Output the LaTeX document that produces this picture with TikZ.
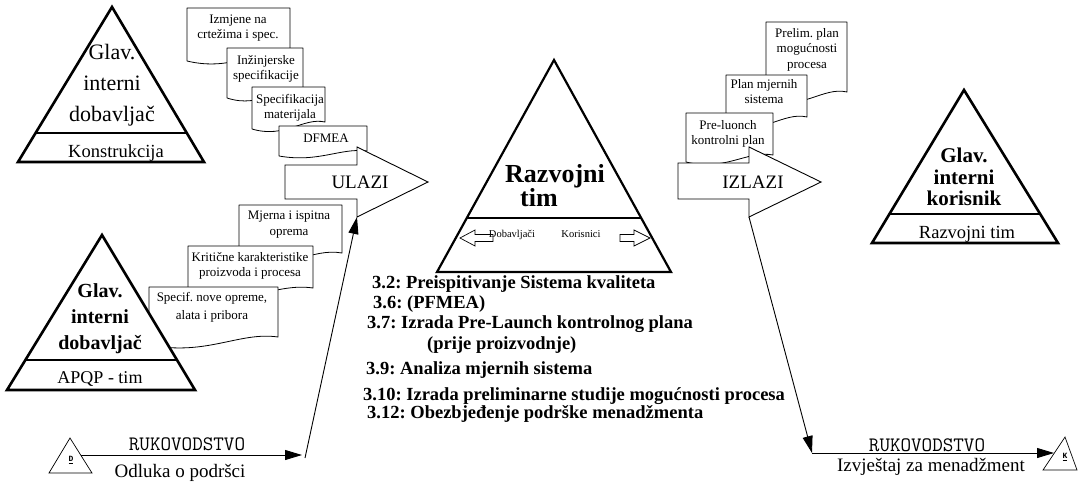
\documentclass[tikz,border=0pt]{standalone}
\usepackage{fontspec}
\setmainfont{Liberation Serif}
\newfontfamily\codefont{Liberation Mono}
\usetikzlibrary{calc,arrows.meta}
\frenchspacing

% sheet with a wavy lower edge: name, left, top, right, bottom at right, bottom at left
\newcommand{\paperdoc}[6]{%
  \path[paper] (#2,#3) coordinate (#1-nw) -- (#4,#3) coordinate (#1-ne) -- (#4,#5)
    .. controls ({#4-0.3*(#4-#2)},{#5-0.7*(#6-#5)}) and ({#2+0.45*(#4-#2)},{#6+1.4*(#6-#5)}) .. (#2,#6) -- cycle;}

\begin{document}
\begin{tikzpicture}[x=1pt,y=-1pt,
  pyramid/.style={draw, line width=2.6pt, fill=white, line join=miter},
  band/.style={line width=2.6pt},
  paper/.style={draw, line width=0.8pt, fill=white, line join=round},
  blockarrow/.style={draw, line width=0.9pt, fill=white, line join=miter},
  conn/.style={line width=0.9pt, -{Triangle[length=17pt,width=10pt]}},
  flag/.style={draw, line width=0.7pt, fill=white},
  lbl/.style={inner sep=0pt, anchor=base},
  doctext/.style={inner sep=0pt, align=center, font={\fontsize{13}{15}\selectfont}},
  caption/.style={lbl, font={\fontsize{19}{21}\selectfont}},
  mono/.style={lbl, font={\ttfamily\fontsize{20.5}{22}\selectfont}},
  step item/.style={inner sep=0pt, anchor=base west, font={\bfseries\fontsize{18.5}{20}\selectfont}},
  flagmark/.style={inner sep=0pt, font={\codefont\bfseries\fontsize{8}{9}\selectfont}}
]
\useasboundingbox (0,0) rectangle (1079,485);
\fill[white] (0,0) rectangle (1079,485);

% ---- construction pyramid (top left)
\coordinate (kA) at (112,7); \coordinate (kL) at (18,162); \coordinate (kR) at (204,162);
\draw[pyramid] (kA) -- (kL) -- (kR) -- cycle;
\draw[band] ($(kA)!0.813!(kL)$) -- ($(kA)!0.813!(kR)$);
\node[inner sep=0pt, align=center, font={\fontsize{22}{31}\selectfont}] (kHead) at (112,85) {Glav.\\interni\\dobavljač};
\node[lbl, font={\fontsize{18.5}{20}\selectfont}] (kFoot) at (116,157) {Konstrukcija};

% ---- input documents
\paperdoc{izm}{187}{8}{290}{53}{61}
\node[doctext] (izmT) at (238,28.4) {Izmjene na\\crtežima i spec.};
\paperdoc{inz}{227}{48}{303}{90}{98}
\node[doctext] (inzT) at (266,68.4) {Inžinjerske\\specifikacije};
\paperdoc{mat}{252}{87}{325}{122}{129}
\node[doctext] (matT) at (290,107.4) {Specifikacija\\materijala};
\paperdoc{dfm}{279}{126}{367}{151}{156}
\node[lbl, font={\fontsize{13}{15}\selectfont}] (dfmT) at (326,142) {DFMEA};

% ---- ULAZI block arrow
\draw[blockarrow] (285,165) -- (357,165) -- (357,147) -- (428,182) coordinate (uTip)
  -- (357,217) coordinate (uFoot) -- (357,199) -- (285,199) -- cycle;
\node[inner sep=0pt, font={\fontsize{19}{21}\selectfont}] (ulazi) at (360,182) {ULAZI};

% ---- APQP documents
\paperdoc{mje}{239}{205}{342}{253}{261}
\node[doctext, font={\fontsize{13}{16}\selectfont}] (mjeT) at (289,225) {Mjerna i ispitna\\oprema};
\paperdoc{kri}{188}{246}{313}{288}{296}
\node[doctext] (kriT) at (250,265.4) {Kritične karakteristike\\proizvoda i procesa};
\paperdoc{spe}{149}{287}{278}{337}{345}
\node[doctext, font={\fontsize{13}{18}\selectfont}] (speT) at (212,307.6) {Specif. nove opreme,\\alata i pribora};

% ---- APQP pyramid (bottom left)
\coordinate (aA) at (102,235); \coordinate (aL) at (7,390); \coordinate (aR) at (195,390);
\draw[pyramid] (aA) -- (aL) -- (aR) -- cycle;
\draw[band] ($(aA)!0.806!(aL)$) -- ($(aA)!0.806!(aR)$);
\node[inner sep=0pt, align=center, font={\bfseries\fontsize{20}{26}\selectfont}] (aHead) at (100,319) {Glav.\\interni\\dobavljač};
\node[lbl, font={\fontsize{18}{20}\selectfont}] (aFoot) at (100,383) {APQP - tim};

% ---- management decision flag and path into ULAZI
\coordinate (dA) at (70,438); \coordinate (dL) at (49,473); \coordinate (dR) at (92,473);
\draw[flag] (dA) -- (dL) -- (dR) -- cycle;
\node[flagmark] (dMark) at (71,460) {\underline{D}};
\coordinate (dOut) at (81,455);
\coordinate (dEnd) at (302,455);
\coordinate (dRise) at (305,458);
\draw[conn] (dOut) -- (dEnd);
\draw[conn] (dRise) -- (uFoot);
\node[mono] (dBoss) at (187,450) {RUKOVODSTVO};
\node[caption] (dNote) at (180,477) {Odluka o podršci};

% ---- development team pyramid (centre)
\coordinate (rA) at (554,60); \coordinate (rL) at (437,272); \coordinate (rR) at (671,272);
\draw[pyramid, line width=2.2pt] (rA) -- (rL) -- (rR) -- cycle;
\draw[band, line width=2.2pt] ($(rA)!0.745!(rL)$) -- ($(rA)!0.745!(rR)$);
\node[inner sep=0pt, anchor=base west, font={\bfseries\fontsize{26}{28}\selectfont}] (rHead1) at (505,182) {Razvojni};
\node[inner sep=0pt, anchor=base west, font={\bfseries\fontsize{26}{28}\selectfont}] (rHead2) at (520,206) {tim};
\draw[blockarrow, line width=0.7pt] (460,238) -- (475,230) -- (475,234.5) -- (493,234.5) -- (493,241.5) -- (475,241.5) -- (475,246) -- cycle;
\draw[blockarrow, line width=0.7pt] (650,238) -- (634,230) -- (634,234.5) -- (620,234.5) -- (620,241.5) -- (634,241.5) -- (634,246) -- cycle;
\node[lbl, font={\fontsize{10.5}{12}\selectfont}] (rSup) at (512,237) {Dobavljači};
\node[lbl, font={\fontsize{10.5}{12}\selectfont}] (rCus) at (581,237) {Korisnici};

% ---- output documents
\paperdoc{pre}{766}{22}{847}{92}{100}
\node[doctext, font={\fontsize{13}{15.5}\selectfont}] (preT) at (807,49.4) {Prelim. plan\\mogućnosti\\procesa};
\paperdoc{pla}{726}{75}{807}{117}{125}
\node[doctext] (plaT) at (764,92) {Plan mjernih\\sistema};
\paperdoc{kon}{686}{113}{773}{155}{162}
\node[doctext] (konT) at (728,133.4) {Pre-luonch\\kontrolni plan};

% ---- IZLAZI block arrow
\draw[blockarrow] (678,163) -- (749,163) -- (749,147) -- (821,182) coordinate (iTip)
  -- (749,217) coordinate (iFoot) -- (749,199) -- (678,199) -- cycle;
\node[inner sep=0pt, font={\fontsize{19}{21}\selectfont}] (izlazi) at (753,182) {IZLAZI};

% ---- customer pyramid (right)
\coordinate (cA) at (964,90); \coordinate (cL) at (872,243); \coordinate (cR) at (1058,243);
\draw[pyramid] (cA) -- (cL) -- (cR) -- cycle;
\draw[band] ($(cA)!0.81!(cL)$) -- ($(cA)!0.81!(cR)$);
\node[inner sep=0pt, align=center, font={\bfseries\fontsize{21}{21.5}\selectfont}] (cHead) at (964,177) {Glav.\\interni\\korisnik};
\node[lbl, font={\fontsize{18.5}{20}\selectfont}] (cFoot) at (967,238) {Razvojni tim};

% ---- management report flag and path out of IZLAZI
\coordinate (fA) at (1065,437); \coordinate (fL) at (1043,470); \coordinate (fR) at (1077,470);
\draw[flag] (fA) -- (fL) -- (fR) -- cycle;
\node[flagmark] (fMark) at (1065,457) {\underline{K}};
\coordinate (kTurn) at (812,453);
\coordinate (kIn) at (1054,453);
\draw[conn] (iFoot) -- (kTurn);
\draw[conn] (kTurn) -- (kIn);
\node[mono] (kBoss) at (927,451) {RUKOVODSTVO};
\node[caption] (kNote) at (931,471) {Izvještaj za menadžment};

% ---- APQP phase steps
\node[step item] (s1) at (372,288) {3.2: Preispitivanje Sistema kvaliteta};
\node[step item] (s2) at (373,308) {3.6: (PFMEA)};
\node[step item] (s3) at (367,328) {3.7: Izrada Pre-Launch kontrolnog plana};
\node[step item] (s4) at (427,349) {(prije proizvodnje)};
\node[step item] (s5) at (366,374) {3.9: Analiza mjernih sistema};
\node[step item] (s6) at (363,400) {3.10: Izrada preliminarne studije mogućnosti procesa};
\node[step item] (s7) at (367,418) {3.12: Obezbjeđenje podrške menadžmenta};
\end{tikzpicture}
\end{document}
